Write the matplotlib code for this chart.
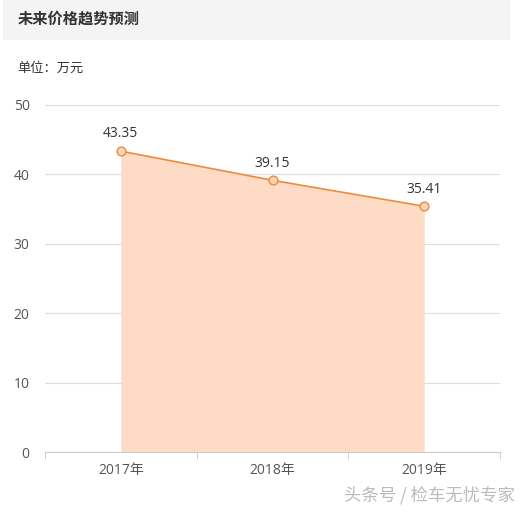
import numpy as np
import matplotlib.pyplot as plt
from matplotlib.patches import Rectangle

plt.rcParams['font.family'] = ['Open Sans', 'Noto Sans CJK SC', 'DejaVu Sans']

years = ['2017年', '2018年', '2019年']
prices = [43.35, 39.15, 35.41]
y_ticks = [0, 10, 20, 30, 40, 50]

W, H = 526, 512
fig = plt.figure(figsize=(W / 100, H / 100), dpi=100)

# cabecera gris
fig.patches.append(Rectangle((3 / W, 1 - 40 / H), 507 / W, 40 / H, transform=fig.transFigure,
                             facecolor='#f4f4f4', edgecolor='none', zorder=0))
fig.text(18 / W, 1 - 19 / H, '未来价格趋势预测', fontsize=11, fontweight='bold',
         color='#333333', va='center', ha='left', family=['Noto Sans CJK SC'])
fig.text(17 / W, 1 - 68 / H, '单位：万元', fontsize=9.5, color='#333333', va='center', ha='left',
         family=['Noto Sans CJK SC'])

ax = fig.add_axes([45 / W, 1 - 452 / H, 455 / W, 347 / H])
x = np.arange(len(years))
ax.fill_between(x, 0, prices, color='#fddbc4', linewidth=0, zorder=1)
ax.plot(x, prices, color='#ee8a3c', linewidth=1.2, zorder=3)
ax.scatter(x, prices, s=40, facecolor='#fcd3b4', edgecolor='#ee8a3c', linewidth=1, zorder=4)
for xi, v in zip(x, prices):
    ax.annotate(f'{v:.2f}', (xi, v), xytext=(0, 7), textcoords='offset points',
                ha='center', va='bottom', fontsize=10, color='#333333')

ax.set_xlim(-0.5, len(years) - 0.5)
ax.set_ylim(0, 50)
ax.set_yticks(y_ticks)
ax.set_yticklabels([str(t) for t in y_ticks])
ax.set_xticks(x)
ax.set_xticklabels(years)
ax.set_xticks(np.arange(len(years) + 1) - 0.5, minor=True)
ax.grid(axis='y', color='#dddddd', linewidth=0.8, zorder=0)
ax.set_axisbelow(True)
for s in ['top', 'right', 'left']:
    ax.spines[s].set_visible(False)
ax.spines['bottom'].set_color('#cccccc')
ax.tick_params(axis='y', length=0, pad=11, labelsize=10, labelcolor='#555555')
ax.tick_params(axis='x', which='major', length=0, pad=8, labelsize=10, labelcolor='#555555')
ax.tick_params(axis='x', which='minor', length=5, color='#cccccc')

fig.text(515 / W, 1 - 495 / H, '头条号 / 检车无忧专家', fontsize=12.5, color='#aaaaaa',
         alpha=0.8, ha='right', va='center', family=['Noto Sans CJK SC'])

fig.savefig('out.png', dpi=100)
